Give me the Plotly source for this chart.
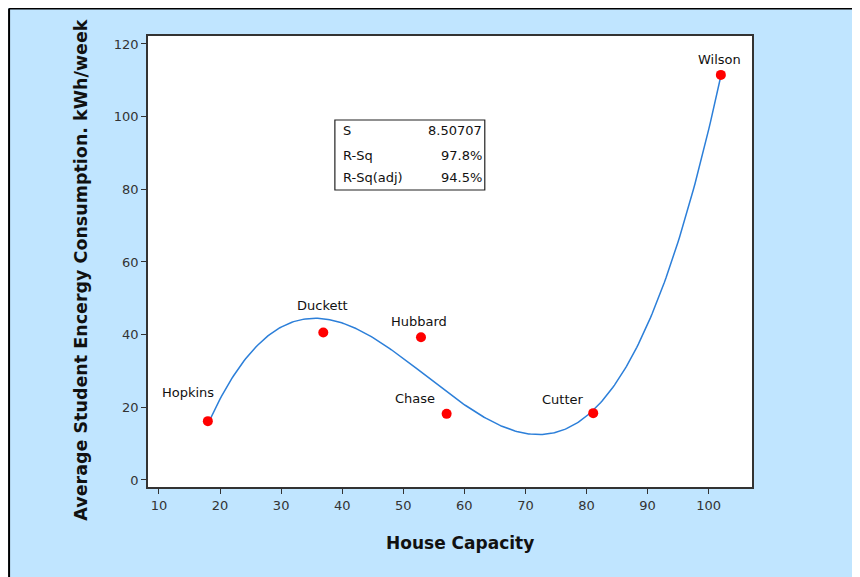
import numpy as np
import plotly.graph_objects as go

houses = ["Hopkins", "Duckett", "Hubbard", "Chase", "Cutter", "Wilson"]
capacity = [18.0, 36.9, 52.9, 57.1, 81.1, 102.0]
energy = [16.2, 40.6, 39.3, 18.2, 18.4, 111.5]

stat_names = ["S", "R-Sq", "R-Sq(adj)"]
stat_values = ["8.50707", "97.8%", "94.5%"]

x_ticks = [10, 20, 30, 40, 50, 60, 70, 80, 90, 100]
y_ticks = [0, 20, 40, 60, 80, 100, 120]

# label offsets (pixels) relative to each point
label_dx = [-20, -1, -2, -32, -30, -1]
label_dy = [29, 27, 16, 15, 14, 15]

# cubic regression fit
coef = np.polyfit(capacity, energy, 3)
xf = np.linspace(min(capacity), max(capacity), 300)
yf = np.polyval(coef, xf)

BG = "#C0E5FF"
AX = "#333333"
FONT = "DejaVu Sans"

fig = go.Figure()
fig.add_trace(go.Scatter(x=xf, y=yf, mode="lines",
                         line=dict(color="#2C7FD9", width=1.5),
                         hoverinfo="skip", showlegend=False))
fig.add_trace(go.Scatter(x=capacity, y=energy, mode="markers",
                         marker=dict(color="#FF0000", size=10),
                         text=houses, showlegend=False))

annotations = []
for name, xv, yv, dx, dy in zip(houses, capacity, energy, label_dx, label_dy):
    annotations.append(dict(x=xv, y=yv, xref="x", yref="y", text=name,
                            showarrow=False, xshift=dx, yshift=dy,
                            font=dict(family=FONT, size=13, color="#111111")))

# stats box rows
row_y = [0.791, 0.734, 0.686]
for nm, val, ry in zip(stat_names, stat_values, row_y):
    annotations.append(dict(x=0.319, y=ry, xref="paper", yref="paper", text=nm,
                            showarrow=False, xanchor="left", yanchor="middle",
                            font=dict(family=FONT, size=13, color="#111111")))
    annotations.append(dict(x=0.556, y=ry, xref="paper", yref="paper", text=val,
                            showarrow=False, xanchor="right", yanchor="middle",
                            font=dict(family=FONT, size=13, color="#111111")))

# axis titles
annotations.append(dict(x=0.5166, y=-0.124, xref="paper", yref="paper",
                        text="<b>House Capacity</b>", showarrow=False,
                        xanchor="center", yanchor="middle",
                        font=dict(family=FONT, size=17, color="#111111")))
annotations.append(dict(x=-0.11, y=0.481, xref="paper", yref="paper",
                        text="<b>Average Student Encergy Consumption. kWh/week</b>",
                        showarrow=False, textangle=-90,
                        xanchor="center", yanchor="middle",
                        font=dict(family=FONT, size=17.5, color="#111111")))

shapes = [
    # outer frame (left and top edges)
    dict(type="line", xref="paper", yref="paper", x0=-0.2300, x1=-0.2300,
         y0=-0.3, y1=1.0610, line=dict(color="#000000", width=2)),
    dict(type="line", xref="paper", yref="paper", x0=-0.2300, x1=1.3,
         y0=1.0610, y1=1.0610, line=dict(color="#000000", width=2)),
    # stats box
    dict(type="rect", xref="paper", yref="paper", x0=0.3094, x1=0.5576,
         y0=0.6585, y1=0.8137, fillcolor="rgba(0,0,0,0)",
         line=dict(color="#222222", width=1.2)),
]

fig.update_layout(
    width=852, height=569,
    margin=dict(l=140, r=108, t=28, b=90),
    paper_bgcolor=BG, plot_bgcolor="#FFFFFF",
    annotations=annotations, shapes=shapes,
    font=dict(family=FONT, size=13, color=AX),
    xaxis=dict(range=[8.2, 107.1], tickvals=x_ticks, ticks="outside", ticklen=5,
               tickwidth=1.2, tickcolor=AX, showgrid=False, zeroline=False,
               showline=True, linecolor=AX, linewidth=1.8, mirror=True,
               tickfont=dict(family=FONT, size=13, color=AX)),
    yaxis=dict(range=[-1.93, 122.2], tickvals=y_ticks, ticks="outside", ticklen=5,
               tickwidth=1.2, tickcolor=AX, showgrid=False, zeroline=False,
               showline=True, linecolor=AX, linewidth=1.8, mirror=True,
               tickfont=dict(family=FONT, size=13, color=AX)),
)

fig.write_html("out.html")
